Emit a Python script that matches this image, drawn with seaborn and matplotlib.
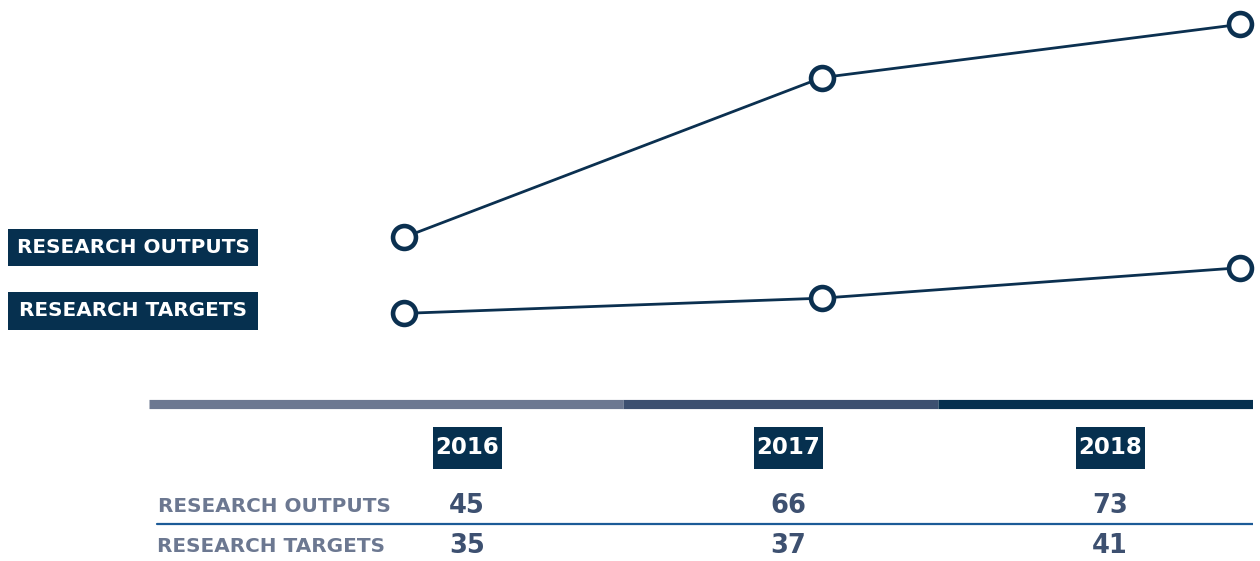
import matplotlib
matplotlib.use("Agg")
import matplotlib.pyplot as plt
from matplotlib.patches import Rectangle
import pandas as pd
import seaborn as sns

# chart data
years = ["2016", "2017", "2018"]
research_outputs = [45, 66, 73]
research_targets = [35, 37, 41]
series_names = ["RESEARCH OUTPUTS", "RESEARCH TARGETS"]

NAVY = "#06304f"
LINE = "#0b3050"
BAND = ["#6c7891", "#3d5070", "#06304f"]
GREY = "#6c7891"
NUM = "#3d5070"
RULE = "#1c5b97"

sns.set_theme(style="white")
plt.rcParams["font.family"] = ["DejaVu Sans"]

W, H = 1260, 561
fig = plt.figure(figsize=(W / 100, H / 100), dpi=100)

# --- line chart ---
ax = fig.add_axes([404 / W, (H - 340) / H, 836 / W, 340 / H])
df = pd.DataFrame({
    "year": years * 2,
    "value": research_outputs + research_targets,
    "series": [series_names[0]] * 3 + [series_names[1]] * 3,
})
for name in series_names:
    sub = df[df["series"] == name]
    sns.lineplot(data=sub, x="year", y="value", ax=ax, color=LINE, linewidth=2.0,
                 marker="o", markersize=16.5, markerfacecolor="white",
                 markeredgecolor=LINE, markeredgewidth=3.3, clip_on=False)
ax.set_xlim(0, 2)
ax.set_ylim(31.5, 76.2)
ax.set_axis_off()

# series labels on the left (fixed-size navy boxes)
for name, (top, bot) in zip(series_names, [(229, 266), (292, 330)]):
    fig.patches.append(Rectangle((8 / W, (H - bot) / H), 250 / W, (bot - top) / H,
                                 transform=fig.transFigure, facecolor=NAVY,
                                 edgecolor="none"))
    fig.text(133 / W, (H - (top + bot) / 2) / H, name, color="white", fontsize=14.4,
             fontweight="bold", ha="center", va="center")

# --- table below ---
tab = fig.add_axes([149 / W, 0, (1253 - 149) / W, 166 / H])
px = 321.5  # pixels per year step
x0 = (149 - 467) / px
x1 = (1253 - 467) / px
tab.set_xlim(x0, x1)
tab.set_ylim(0, 1)
tab.set_axis_off()

edges = [x0, 0.485, 1.465, x1]
for i in range(3):
    tab.plot([edges[i], edges[i + 1]], [0.943, 0.943], color=BAND[i], lw=6.6,
             solid_capstyle="butt")

for i, yr in enumerate(years):
    tab.add_patch(Rectangle((i - 34.5 / px, 0.681 - 21 / 166), 69 / px, 42 / 166,
                            facecolor=NAVY, edgecolor="none"))
    tab.text(i, 0.681, yr, color="white", fontsize=16.5, fontweight="bold",
             ha="center", va="center")
    tab.text(i, 0.331, str(research_outputs[i]), color=NUM, fontsize=18.5,
             fontweight="bold", ha="center", va="center")
    tab.text(i, 0.090, str(research_targets[i]), color=NUM, fontsize=18.5,
             fontweight="bold", ha="center", va="center")

tab.text(-0.96, 0.331, series_names[0], color=GREY, fontsize=14.4,
         fontweight="bold", ha="left", va="center")
tab.text(-0.965, 0.090, series_names[1], color=GREY, fontsize=14.4,
         fontweight="bold", ha="left", va="center")
tab.plot([-0.964, x1], [0.223, 0.223], color=RULE, lw=1.6)

fig.savefig("out.png", dpi=100)
